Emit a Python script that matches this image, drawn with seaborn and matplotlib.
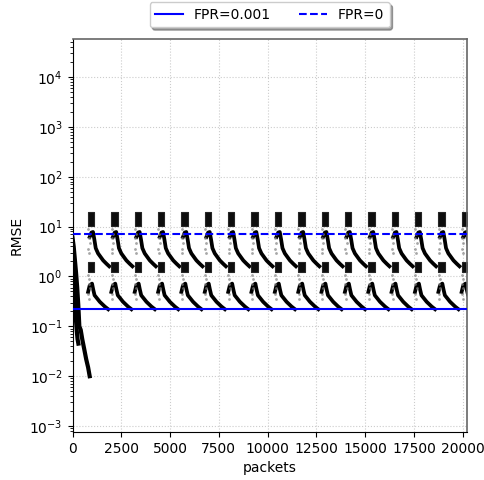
import matplotlib
matplotlib.use('Agg')
import matplotlib.pyplot as plt
import seaborn as sns
import pandas as pd

# packet number where each periodic burst begins
cycle_start = [800, 1990, 3190, 4390, 5580, 6780, 7980, 9170, 10370,
               11570, 12760, 13960, 15160, 16350, 17550, 18750, 19940]

# upper curve of a burst (offset from burst start, RMSE)
upper_off = [80, 170, 250, 320, 390, 510, 770, 940, 1080]
upper_rmse = [6.2, 7.6, 7.8, 5.5, 3.7, 2.9, 2.1, 1.8, 1.6]

# lower curve of a burst
lower_off = [0, 80, 200, 260, 330, 600, 850, 1030]
lower_rmse = [0.49, 0.66, 0.72, 0.55, 0.42, 0.31, 0.25, 0.22]

# dense clusters right at the burst start (offset span, RMSE span)
blob_span = [0, 320]
upper_blob = [10.5, 20]
lower_blob = [1.25, 1.95]

# sparse points under the clusters
sparse_off = [10, 60, 20, 80, 15, 50]
sparse_upper = [9.0, 7.2, 5.8, 4.6, 3.6, 3.0]
sparse_lower = [1.05, 0.88, 0.72, 0.58, 0.45, 0.36]

# warm-up phase at the start of the capture
init_a_packets = [0, 30, 60, 100, 140, 180, 220, 260, 300]
init_a_rmse = [4.5, 2.2, 1.1, 0.5, 0.25, 0.13, 0.08, 0.055, 0.045]
init_b_packets = [0, 60, 120, 180, 240, 300, 350, 420, 500, 600, 700, 800, 880]
init_b_rmse = [6.0, 4.0, 2.2, 1.2, 0.6, 0.25, 0.1, 0.085, 0.055, 0.035, 0.022, 0.015, 0.010]

thresholds = [0.22, 7.0]
threshold_labels = ['FPR=0.001', 'FPR=0']
y_ticks = [1e-3, 1e-2, 1e-1, 1e0, 1e1, 1e2, 1e3, 1e4]

# build long tables of curves
init_rows = []
for p, v in zip(init_a_packets, init_a_rmse):
    init_rows.append({'packets': p, 'RMSE': v, 'curve': 'init_a'})
for p, v in zip(init_b_packets, init_b_rmse):
    init_rows.append({'packets': p, 'RMSE': v, 'curve': 'init_b'})
init_df = pd.DataFrame(init_rows)

rows = []
for k, s in enumerate(cycle_start):
    for o, v in zip(upper_off, upper_rmse):
        rows.append({'packets': s + o, 'RMSE': v, 'curve': f'u{k}'})
    for o, v in zip(lower_off, lower_rmse):
        rows.append({'packets': s + o, 'RMSE': v, 'curve': f'l{k}'})
df = pd.DataFrame(rows)

pts = []
for s in cycle_start:
    for o, a, b in zip(sparse_off, sparse_upper, sparse_lower):
        pts.append({'packets': s + o, 'RMSE': a})
        pts.append({'packets': s + o, 'RMSE': b})
sparse = pd.DataFrame(pts)

fig, ax = plt.subplots(figsize=(4.85, 4.8), dpi=100)
fig.subplots_adjust(left=0.1495, right=0.9623, bottom=0.1, top=0.9188)

sns.lineplot(data=init_df, x='packets', y='RMSE', units='curve', estimator=None,
             sort=False, color='k', lw=3.0, ax=ax, zorder=2)
sns.lineplot(data=df, x='packets', y='RMSE', units='curve', estimator=None,
             sort=False, color='k', lw=2.7, ax=ax, zorder=2)
sns.scatterplot(data=sparse, x='packets', y='RMSE', color='0.5', s=4,
                marker='o', linewidth=0, alpha=0.7, ax=ax, zorder=2)
for s in cycle_start:
    xs = [s + blob_span[0], s + blob_span[1]]
    ax.fill_between(xs, upper_blob[0], upper_blob[1], color='0.05', lw=0.8,
                    edgecolor='0.15', zorder=2)
    ax.fill_between(xs, lower_blob[0], lower_blob[1], color='0.05', lw=0.8,
                    edgecolor='0.15', zorder=2)

ax.axhline(thresholds[0], color='b', ls='-', lw=1.5, label=threshold_labels[0], zorder=3)
ax.axhline(thresholds[1], color='b', ls='--', lw=1.5, label=threshold_labels[1], zorder=3)

ax.set_yscale('log')
ax.set_yticks(y_ticks)
ax.set_ylim(7.6e-4, 5.8e4)
ax.set_xlim(0, 20200)
ax.set_xticks(range(0, 20001, 2500))
ax.set_xlabel('packets')
ax.set_ylabel('RMSE')
ax.grid(True, which='major', ls=':', color='#cccccc', lw=0.8)
ax.set_axisbelow(True)
for side in ['top', 'right']:
    ax.spines[side].set_color('0.4')
    ax.spines[side].set_linewidth(1.2)

ax.legend(loc='lower center', bbox_to_anchor=(0.5, 1.012), ncol=2,
          shadow=True, fancybox=True)

plt.savefig('out.png')
plt.close()
